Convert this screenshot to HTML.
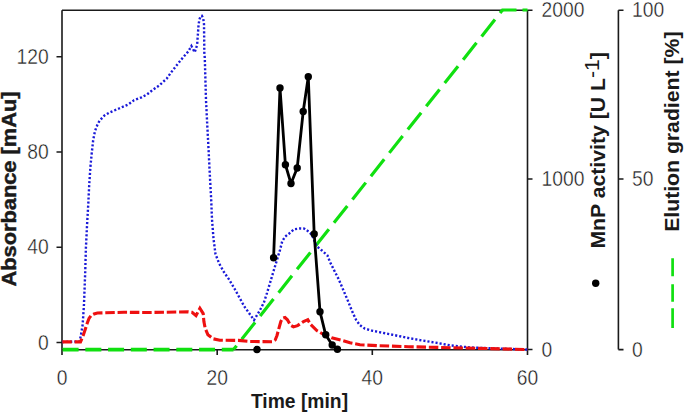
<!DOCTYPE html>
<html><head><meta charset="utf-8"><style>html,body{margin:0;padding:0;background:#fff;width:685px;height:414px;overflow:hidden}svg{display:block}</style></head>
<body><svg width="685" height="414" viewBox="0 0 685 414" font-family="Liberation Sans, sans-serif" fill="#1a1a1a">
<rect width="685" height="414" fill="#fff"/>
<defs><clipPath id="pa"><rect x="62" y="8" width="466" height="345"/></clipPath></defs>
<g stroke="#1a1a1a" stroke-width="1.6" fill="none">
<path d="M62,10.2V355 M62,10.2H527.5 M527.5,10.2V355 M62,349.8H527.5"/>
<path d="M56.5,342.5H62 M56.5,247.3H62 M56.5,152H62 M56.5,56.7H62"/>
<path d="M217.2,349.8V355 M372.3,349.8V355"/>
<path d="M527.5,10.2H532.5 M527.5,179H532.5 M527.5,349.5H532.5"/>
<path d="M618.4,10.2V349.6 M618.4,10.2H623.5 M618.4,179H623.5 M618.4,349.6H623.5"/>
</g>
<g fill="none">
<path d="M62.6,349.6H233.5" stroke="#10e010" stroke-width="3.6" stroke-dasharray="16 6.74"/>
<path d="M233.5,349.6L502.5,10" stroke="#10e010" stroke-width="3.2" stroke-dasharray="21.5 8.22" stroke-dashoffset="16.52"/>
<path d="M501.5,10H527.5" stroke="#10e010" stroke-width="3" stroke-dasharray="15 6"/>
</g>
<g clip-path="url(#pa)" fill="none">
<polyline points="62.0,342.0 79.5,341.5 80.8,336.0 82.6,325.0 83.3,315.0 84.0,304.0 85.2,272.5 85.9,248.0 87.1,224.0 88.3,203.6 89.2,185.0 90.4,167.0 91.7,153.5 93.2,140.0 95.0,131.0 97.5,124.5 99.7,120.5 104.5,115.5 109.3,112.6 119.0,108.5 128.6,104.3 134.0,100.3 141.6,97.3 147.2,94.3 152.2,90.3 159.5,85.2 166.7,78.6 171.1,72.4 176.9,65.0 182.7,57.8 188.5,51.2 191.4,46.0 194.7,52.3 197.1,45.0 197.9,34.2 198.6,24.5 199.4,19.5 200.5,16.5 201.9,15.8 203.2,18.3 204.0,24.0 204.2,40.2 204.3,52.3 204.8,58.3 206.0,100.0 207.2,124.0 208.5,148.3 209.7,172.5 211.2,200.0 212.0,219.3 213.5,238.7 215.5,254.2 219.3,263.8 224.2,272.5 229.0,279.3 234.7,289.0 244.3,306.4 254.0,320.0 259.8,310.5 263.9,302.5 267.0,293.0 270.5,281.3 274.5,268.0 278.5,254.8 280.0,250.0 282.2,241.3 285.2,236.5 289.5,233.2 294.0,229.3 300.0,228.4 304.3,228.6 308.6,231.5 311.8,234.7 314.5,241.0 316.5,246.0 321.3,250.0 327.5,255.5 330.0,262.0 334.0,270.0 338.7,279.3 347.4,299.6 352.0,311.0 356.1,319.9 360.0,325.2 364.8,328.6 372.5,330.8 379.2,332.1 393.8,335.0 408.4,338.0 423.0,340.6 437.6,343.0 450.0,345.3 469.0,347.4 490.0,348.3 527.5,349.5" stroke="#1a1ad8" stroke-width="2.4" stroke-dasharray="2.1 2"/>
<polyline points="62.0,341.9 80.5,341.9 83.2,335.5 85.2,329.5 87.2,323.3 89.0,318.5 91.1,315.4 94.0,314.0 97.4,313.0 124.0,312.3 150.0,312.5 188.0,311.8 192.0,312.3 196.0,315.6 199.9,308.3 203.2,313.6 203.9,321.6 205.2,328.2 207.9,334.8 213.2,338.8 219.8,340.2 238.4,340.4 250.0,341.5 272.0,341.7 275.3,339.8 277.0,335.5 278.4,330.2 280.8,321.5 282.6,318.2 285.0,317.4 287.4,319.8 290.5,325.2 293.5,326.9 297.5,325.6 303.5,321.6 307.8,319.7 310.4,324.3 316.8,330.6 323.5,334.3 331.6,337.8 342.4,340.5 350.0,342.8 360.0,344.8 379.2,345.7 408.4,346.7 437.6,347.4 527.5,349.5" stroke="#ee1010" stroke-width="3.1" stroke-dasharray="9.5 2.8" stroke-dashoffset="-0.3"/>
<polyline points="273.6,257.8 280.0,88.0 285.4,164.7 291.0,183.5 297.2,168.0 303.2,111.5 308.3,76.7 314.2,234.0 320.0,311.7 325.7,334.8 332.2,345.0 337.4,349.3" stroke="#000" stroke-width="2.8" stroke-linejoin="round"/>
</g>
<g fill="#000">
<circle cx="257" cy="349.5" r="3.7"/><circle cx="273.6" cy="257.8" r="3.7"/><circle cx="280" cy="88" r="3.7"/><circle cx="285.4" cy="164.7" r="3.7"/><circle cx="291" cy="183.5" r="3.7"/><circle cx="297.2" cy="168" r="3.7"/><circle cx="303.2" cy="111.5" r="3.7"/><circle cx="308.3" cy="76.7" r="3.7"/><circle cx="314.2" cy="234" r="3.7"/><circle cx="320" cy="311.7" r="3.7"/><circle cx="325.7" cy="334.8" r="3.7"/><circle cx="332.2" cy="345" r="3.7"/><circle cx="337.4" cy="349.3" r="3.7"/>
<circle cx="595.7" cy="283.3" r="3.7"/>
</g>
<path d="M672.6,258.3V276.3M672.6,284.3V301.7M672.6,308.3V328" stroke="#10e010" stroke-width="2.7" fill="none"/>
<text x="48.7" y="0" transform="translate(0,349.6) scale(1,1.1)" text-anchor="end" font-weight="normal" font-size="19.3" stroke="#fff" stroke-width="0.35">0</text><text x="48.7" y="0" transform="translate(0,254.4) scale(1,1.1)" text-anchor="end" font-weight="normal" font-size="19.3" stroke="#fff" stroke-width="0.35">40</text><text x="48.7" y="0" transform="translate(0,159.1) scale(1,1.1)" text-anchor="end" font-weight="normal" font-size="19.3" stroke="#fff" stroke-width="0.35">80</text><text x="48.7" y="0" transform="translate(0,63.8) scale(1,1.1)" text-anchor="end" font-weight="normal" font-size="19.3" stroke="#fff" stroke-width="0.35">120</text><text x="62" y="0" transform="translate(0,384.9) scale(1,1.1)" text-anchor="middle" font-weight="normal" font-size="19.3" stroke="#fff" stroke-width="0.35">0</text><text x="217.2" y="0" transform="translate(0,384.9) scale(1,1.1)" text-anchor="middle" font-weight="normal" font-size="19.3" stroke="#fff" stroke-width="0.35">20</text><text x="372.3" y="0" transform="translate(0,384.9) scale(1,1.1)" text-anchor="middle" font-weight="normal" font-size="19.3" stroke="#fff" stroke-width="0.35">40</text><text x="527.5" y="0" transform="translate(0,384.9) scale(1,1.1)" text-anchor="middle" font-weight="normal" font-size="19.3" stroke="#fff" stroke-width="0.35">60</text><text x="541.6" y="0" transform="translate(0,356.6) scale(1,1.1)" text-anchor="start" font-weight="normal" font-size="19.3" stroke="#fff" stroke-width="0.35">0</text><text x="541.6" y="0" transform="translate(0,186.1) scale(1,1.1)" text-anchor="start" font-weight="normal" font-size="19.3" stroke="#fff" stroke-width="0.35">1000</text><text x="541.6" y="0" transform="translate(0,17.1) scale(1,1.1)" text-anchor="start" font-weight="normal" font-size="19.3" stroke="#fff" stroke-width="0.35">2000</text><text x="632" y="0" transform="translate(0,356.6) scale(1,1.1)" text-anchor="start" font-weight="normal" font-size="19.3" stroke="#fff" stroke-width="0.35">0</text><text x="632" y="0" transform="translate(0,186.1) scale(1,1.1)" text-anchor="start" font-weight="normal" font-size="19.3" stroke="#fff" stroke-width="0.35">50</text><text x="632" y="0" transform="translate(0,17.1) scale(1,1.1)" text-anchor="start" font-weight="normal" font-size="19.3" stroke="#fff" stroke-width="0.35">100</text><text x="299.5" y="0" transform="translate(0,407.7) scale(1,1.05)" text-anchor="middle" font-weight="bold" font-size="19.3" >Time [min]</text><text x="0" y="0" transform="translate(16,189) rotate(-90) scale(1.13,1)" text-anchor="middle" font-weight="bold" font-size="19.3" stroke="#1a1a1a" stroke-width="0.45">Absorbance [mAu]</text><text x="0" y="0" transform="translate(605.4,248.6) rotate(-90) scale(1.1,1)" font-weight="bold" font-size="19.3">MnP activity [U L<tspan dy="-6.2" font-weight="normal" stroke="none">-1</tspan><tspan dy="6.2">]</tspan></text><text x="0" y="0" transform="translate(678.9,131.7) rotate(-90) scale(1.1,1)" text-anchor="middle" font-weight="bold" font-size="19.3" >Elution gradient [%]</text>
</svg></body></html>
